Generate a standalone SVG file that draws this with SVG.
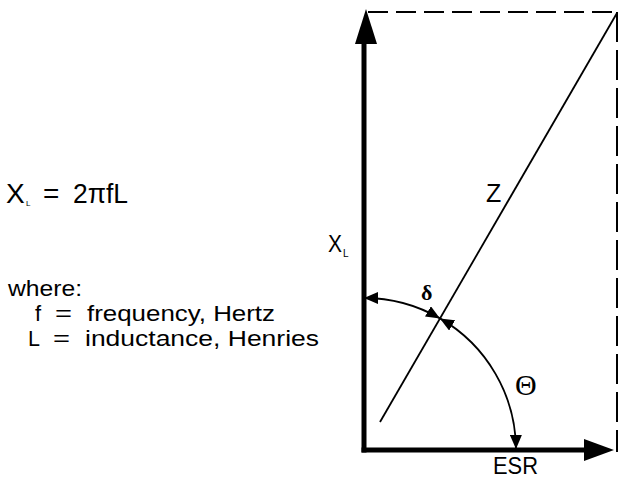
<svg xmlns="http://www.w3.org/2000/svg" width="620" height="479" viewBox="0 0 620 479">
<style>
.t{font-family:"Liberation Sans",Arial,sans-serif;fill:#000}
.g{font-family:"Liberation Serif","Times New Roman",serif;fill:#000}
.axis{stroke:#000;stroke-width:5;fill:none}
.dash{stroke:#000;stroke-width:2;fill:none}
.thin{stroke:#000;stroke-width:1.8;fill:none}
.head{fill:#000;stroke:none}
</style>
<defs>
<marker id="ah" viewBox="0 0 14 12" refX="14" refY="6" markerWidth="14" markerHeight="12" markerUnits="userSpaceOnUse" orient="auto-start-reverse">
<path d="M0,0 L14,6 L0,12 z" fill="#000"/>
</marker>
</defs>
<rect width="620" height="479" fill="#fff"/>
<g id="formula">
<text class="t" x="6" y="203" font-size="28">X</text>
<text class="t" x="26" y="206" font-size="8">L</text>
<text class="t" x="43" y="203" font-size="28">=</text>
<text class="t" x="73" y="203" font-size="28" textLength="55" lengthAdjust="spacingAndGlyphs">2πfL</text>
</g>
<g id="where">
<text class="t" x="8" y="296" font-size="22" textLength="74" lengthAdjust="spacingAndGlyphs">where:</text>
<text class="t" x="35" y="321" font-size="22">f</text>
<text class="t" x="55" y="321" font-size="22" textLength="17" lengthAdjust="spacingAndGlyphs">=</text>
<text class="t" x="87" y="321" font-size="22" textLength="188" lengthAdjust="spacingAndGlyphs">frequency, Hertz</text>
<text class="t" x="28" y="346" font-size="22" textLength="12" lengthAdjust="spacingAndGlyphs">L</text>
<text class="t" x="53" y="346" font-size="22" textLength="17" lengthAdjust="spacingAndGlyphs">=</text>
<text class="t" x="85" y="346" font-size="22" textLength="234" lengthAdjust="spacingAndGlyphs">inductance, Henries</text>
</g>
<g id="connectors">
<line class="dash" x1="368" y1="12" x2="617" y2="12" stroke-dasharray="20 8"/>
<line class="dash" x1="617" y1="12" x2="617" y2="452" stroke-dasharray="30 8"/>
<line class="axis" x1="364" y1="40" x2="364" y2="452.5"/>
<polygon class="head" points="366,9 377,44 355,44"/>
<line class="axis" x1="361.5" y1="450" x2="588" y2="450"/>
<polygon class="head" points="614,450 584,439 584,461"/>
<line class="thin" x1="617" y1="13" x2="380" y2="422"/>
<path class="thin" d="M364 298 A152 152 0 0 1 440 318.4" marker-start="url(#ah)" marker-end="url(#ah)"/>
<path class="thin" d="M440 318.4 A152 152 0 0 1 516 449" marker-start="url(#ah)" marker-end="url(#ah)"/>
</g>
<g id="labels">
<text class="t" x="328" y="252" font-size="24" textLength="14" lengthAdjust="spacingAndGlyphs">X</text>
<text class="t" x="343" y="257" font-size="10">L</text>
<text class="t" x="486" y="202" font-size="25">Z</text>
<text class="g" x="421" y="300" font-size="22" font-weight="bold">δ</text>
<text class="g" x="515" y="395" font-size="30">Θ</text>
<text class="t" x="493" y="474" font-size="23" textLength="45" lengthAdjust="spacingAndGlyphs">ESR</text>
</g>
</svg>
